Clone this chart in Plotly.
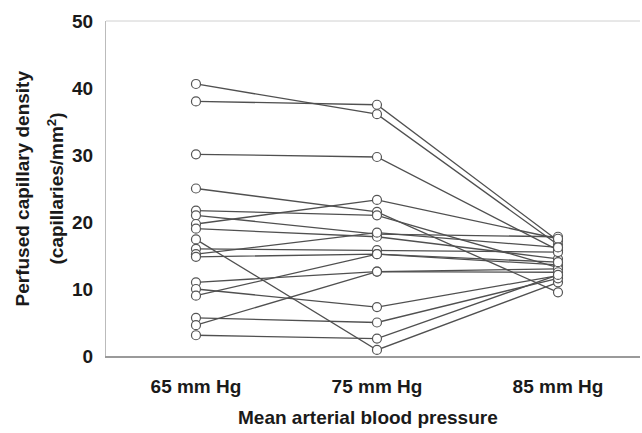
import plotly.graph_objects as go

categories = ["65 mm Hg", "75 mm Hg", "85 mm Hg"]
y_ticks = [0, 10, 20, 30, 40, 50]

# perfused capillary density per subject at 65 / 75 / 85 mm Hg
map65 = [40.6, 38.0, 30.1, 25.0, 21.7, 21.0, 19.7, 19.0, 17.4, 16.0, 15.2, 14.8, 11.0, 10.0, 9.0, 5.7, 4.6, 3.1]
map75 = [36.1, 37.5, 29.7, 21.5, 21.0, 18.2, 23.3, 17.8, 0.9, 15.8, 18.4, 15.2, 12.6, 7.3, 15.2, 5.0, 12.6, 2.6]
map85 = [16.6, 17.2, 15.8, 9.5, 13.2, 17.8, 17.5, 14.5, 11.0, 15.5, 16.2, 13.6, 13.0, 12.0, 14.0, 11.6, 12.5, 12.1]

xpos = [0, 1, 2]
fig = go.Figure()

lx, ly, mx, my = [], [], [], []
for a, b, c in zip(map65, map75, map85):
    lx += xpos + [None]
    ly += [a, b, c, None]
    mx += xpos
    my += [a, b, c]

fig.add_trace(go.Scatter(x=lx, y=ly, mode="lines",
                         line=dict(color="#505050", width=1.3),
                         hoverinfo="skip", showlegend=False))
fig.add_trace(go.Scatter(x=mx, y=my, mode="markers",
                         marker=dict(symbol="circle", size=9, color="white",
                                     line=dict(color="#555555", width=1.2)),
                         showlegend=False))

font = dict(family="Arial, Liberation Sans, sans-serif", size=19, color="#1a1a1a")

fig.update_layout(
    width=642, height=433,
    margin=dict(l=106, r=2, t=21, b=77),
    paper_bgcolor="white", plot_bgcolor="white",
    font=font,
    xaxis=dict(range=[-0.497, 2.453], tickvals=xpos, ticktext=[f"<b>{c}</b>" for c in categories],
               showgrid=False, zeroline=False, showline=True, linecolor="#9a9a9a", linewidth=2,
               ticks="", ticklen=0, tickfont=font, ticklabelstandoff=12),
    yaxis=dict(range=[0, 50], tickvals=y_ticks, ticktext=[f"<b>{v}</b>" for v in y_ticks],
               showgrid=False, zeroline=False, showline=True, linecolor="#bbbbbb", linewidth=1,
               ticks="", ticklen=0, tickfont=font, ticklabelstandoff=8),
    shapes=[dict(type="line", xref="paper", yref="paper", x0=0, x1=1, y0=1, y1=1,
                 line=dict(color="#d0d0d0", width=1))],
    annotations=[
        dict(text="<b>Mean arterial blood pressure</b>", xref="paper", yref="paper",
             x=0.49, y=-0.185, xanchor="center", yanchor="middle", showarrow=False, font=font),
        dict(text="<b>Perfused capillary density</b>", xref="paper", yref="paper",
             x=(22 - 106) / 534, y=0.5, xanchor="center", yanchor="middle", textangle=-90,
             showarrow=False, font=font),
        dict(text="<b>(capillaries/mm<sup>2</sup>)</b>", xref="paper", yref="paper",
             x=(55 - 106) / 534, y=0.5, xanchor="center", yanchor="middle", textangle=-90,
             showarrow=False, font=font),
    ],
)

fig.write_html("out.html", config={"displayModeBar": False},
               post_script="document.body.style.margin='0';document.body.style.overflow='hidden';")
